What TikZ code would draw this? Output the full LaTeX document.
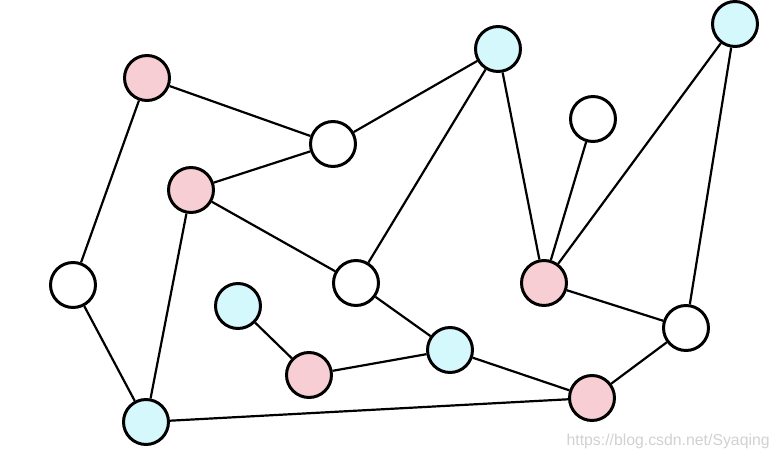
\documentclass[tikz,border=0pt]{standalone}
\usepackage{fontspec}
\setmainfont{Liberation Sans}
\usepackage{xcolor}
\usepackage{tikz}
\usetikzlibrary{positioning}
\definecolor{pinkfill}{RGB}{246,206,211}
\definecolor{cyanfill}{RGB}{212,248,252}

\begin{document}
\begin{tikzpicture}[
  x=0.02cm, y=-0.02cm,
  vtx/.style={circle, draw=black, line width=1.7pt, minimum size=0.9cm, inner sep=0pt, fill=white},
  pnk/.style={vtx, fill=pinkfill},
  cyn/.style={vtx, fill=cyanfill},
  edge/.style={line width=1.25pt, black}
]
\useasboundingbox (0,0) rectangle (779,459);
%% vertices (pixel grid, y down)
\node[pnk] (v_a) at (147, 78)  {};
\node[vtx] (v_b) at (333,144)  {};
\node[cyn] (v_c) at (498, 49)  {};
\node[cyn] (v_d) at (735, 24)  {};
\node[vtx] (v_e) at (593,119)  {};
\node[pnk] (v_f) at (191,190)  {};
\node[vtx] (v_g) at ( 73,285)  {};
\node[vtx] (v_h) at (356,283)  {};
\node[pnk] (v_i) at (544,283)  {};
\node[cyn] (v_j) at (238,306)  {};
\node[pnk] (v_k) at (309,375)  {};
\node[cyn] (v_l) at (450,350)  {};
\node[vtx] (v_m) at (686,328)  {};
\node[pnk] (v_n) at (592,398)  {};
\node[cyn] (v_o) at (146,422)  {};
%% edges
\draw[edge] (v_a) -- (v_b);
\draw[edge] (v_a) -- (v_g);
\draw[edge] (v_b) -- (v_c);
\draw[edge] (v_b) -- (v_f);
\draw[edge] (v_c) -- (v_h);
\draw[edge] (v_c) -- (v_i);
\draw[edge] (v_d) -- (v_i);
\draw[edge] (v_d) -- (v_m);
\draw[edge] (v_e) -- (v_i);
\draw[edge] (v_f) -- (v_h);
\draw[edge] (v_f) -- (v_o);
\draw[edge] (v_g) -- (v_o);
\draw[edge] (v_h) -- (v_l);
\draw[edge] (v_j) -- (v_k);
\draw[edge] (v_k) -- (v_l);
\draw[edge] (v_l) -- (v_n);
\draw[edge] (v_i) -- (v_m);
\draw[edge] (v_m) -- (v_n);
\draw[edge] (v_o) -- (v_n);
%% watermark
\node[anchor=base east, inner sep=0pt, text=black!18, font=\fontsize{9}{10}\selectfont]
    (mark) at (770,446) {https://blog.csdn.net/Syaqing};
\end{tikzpicture}
\end{document}
